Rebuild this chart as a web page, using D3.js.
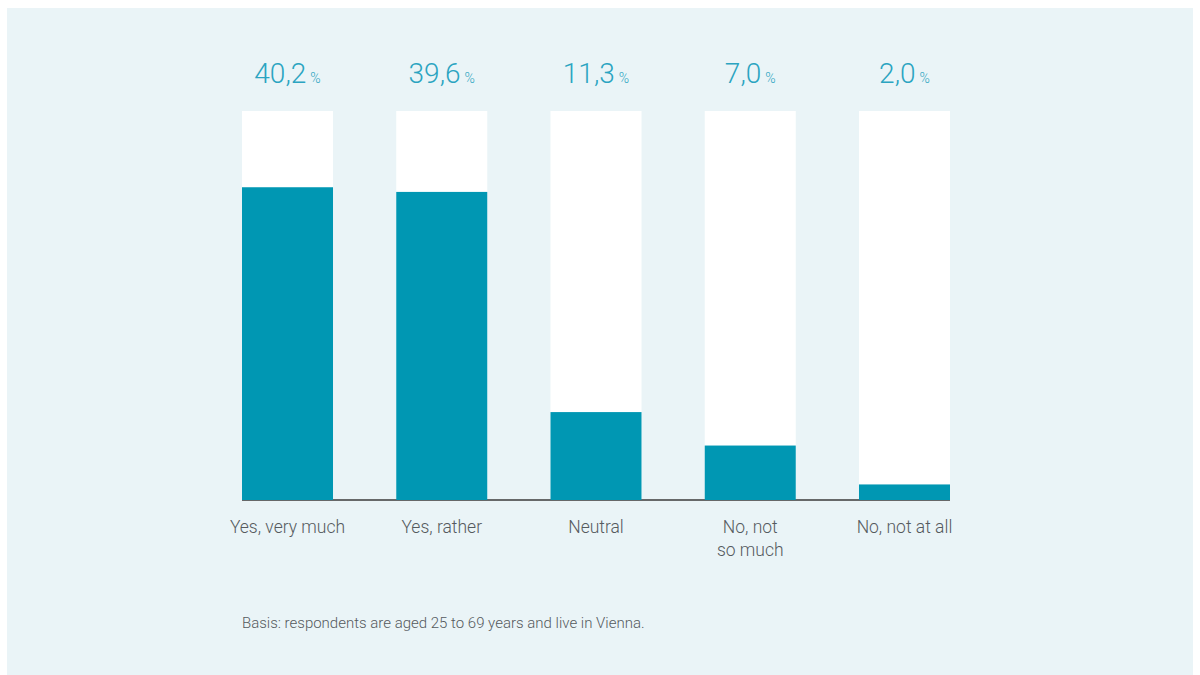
<!DOCTYPE html>
<html>
<head>
<meta charset="utf-8">
<script src="https://cdn.jsdelivr.net/npm/d3@7"></script>
<style>
  html, body { margin: 0; padding: 0; background: #ffffff; }
  svg { display: block; }
  text { font-family: Roboto, "Open Sans", sans-serif; }
</style>
</head>
<body>
<svg id="chart" width="1200" height="675"></svg>
<script>
const categories = ["Yes, very much", "Yes, rather", "Neutral", "No, not|so much", "No, not at all"];
const values = [40.2, 39.6, 11.3, 7.0, 2.0];
const valueLabels = ["40,2", "39,6", "11,3", "7,0", "2,0"];
const domainMax = 50;
const footnote = "Basis: respondents are aged 25 to 69 years and live in Vienna.";

const svg = d3.select("#chart");
svg.append("rect").attr("x", 7).attr("y", 8).attr("width", 1186).attr("height", 667).attr("fill", "#eaf4f7");

const x = d3.scaleBand().domain(categories).range([242, 950]).paddingInner(0.41).paddingOuter(0);
const y = d3.scaleLinear().domain([0, domainMax]).range([500, 111]);

const g = svg.append("g");
// white background bars
g.selectAll(".bg").data(categories).join("rect")
  .attr("x", d => x(d)).attr("y", y(domainMax))
  .attr("width", x.bandwidth()).attr("height", y(0) - y(domainMax))
  .attr("fill", "#ffffff");
// baseline
g.append("line").attr("x1", 242).attr("x2", 950).attr("y1", 500).attr("y2", 500)
  .attr("stroke", "#3a3a3a").attr("stroke-width", 1.3);
// value bars
g.selectAll(".bar").data(values).join("rect")
  .attr("x", (d, i) => x(categories[i])).attr("y", d => y(d))
  .attr("width", x.bandwidth()).attr("height", d => y(0) - y(d))
  .attr("fill", "#0097b3");

// value labels
const vl = g.selectAll(".vl").data(valueLabels).join("text")
  .attr("x", (d, i) => x(categories[i]) + x.bandwidth() / 2)
  .attr("y", 83).attr("text-anchor", "middle")
  .attr("fill", "#2ba4c1").attr("font-weight", 300);
vl.append("tspan").attr("font-size", 28).text(d => d);
vl.append("tspan").attr("font-size", 14).attr("dx", 4).text("%");

// category labels
const cl = g.selectAll(".cl").data(categories).join("text")
  .attr("text-anchor", "middle").attr("fill", "#555a5e")
  .attr("font-size", 17.5).attr("font-weight", 300);
cl.each(function(d) {
  const t = d3.select(this);
  const cx = x(d) + x.bandwidth() / 2;
  d.split("|").forEach((line, i) => {
    t.append("tspan").attr("x", cx).attr("y", 533 + i * 23).text(line);
  });
});

svg.append("text").attr("x", 242).attr("y", 628).attr("fill", "#555a5e")
  .attr("font-size", 15).attr("font-weight", 300).text(footnote);
</script>
</body>
</html>
